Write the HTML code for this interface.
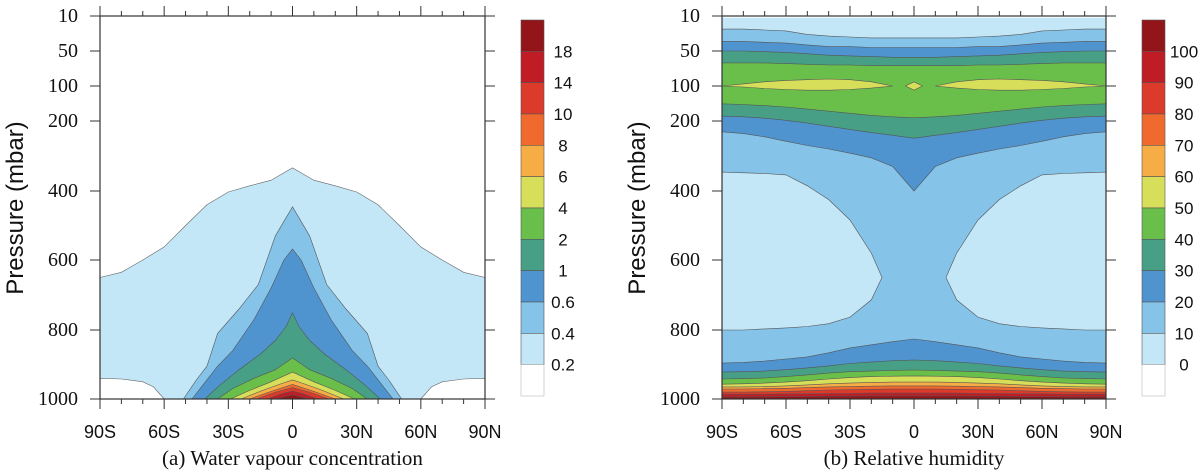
<!DOCTYPE html>
<html><head><meta charset="utf-8"><style>
html,body{margin:0;padding:0;background:#fff;}
svg{display:block;}
</style></head><body>
<svg id="fig" width="1200" height="473" viewBox="0 0 1200 473" xmlns="http://www.w3.org/2000/svg">
<g id="pa"></g>
<g id="pb"></g>
</svg>
<script>
// ---------- shared data ----------
const pTicks = [10, 50, 100, 200, 400, 600, 800, 1000];
const latTicks = [-90, -60, -30, 0, 30, 60, 90];
const latTickLabels = ["90S", "60S", "30S", "0", "30N", "60N", "90N"];
const colors = ["#ffffff","#c4e7f8","#85c3e9","#4f93cf","#47a085","#6abf4b","#d7de5a","#f6ad45","#f06a2e","#dc3a2a","#bf1c26","#921519"];
const cbLabelsA = ["18","14","10","8","6","4","2","1","0.6","0.4","0.2"];
const cbLabelsB = ["100","90","80","70","60","50","40","30","20","10","0"];

// ---------- panel (a) water vapour data ----------
const wvLats02 = [-90,-80,-70,-60,-50,-40,-30,-20,-10,0];
const wvTop02 = [650,635,600,562,500,440,403,385,369,334];
const wvCornerLats = [-90,-80,-70,-65,-60];
const wvCornerP = [940,942,950,965,1000];
const wv04 = [[-51,1000],[-45,945],[-40,905],[-35,810],[-25,740],[-16,670],[-8,530],[0,446]];
const wv06 = [[-47,1000],[-42,960],[-35,905],[-28,860],[-18,770],[-10,680],[-4,600],[0,568]];
const wv1 = [[-41,1000],[-34,960],[-25,915],[-15,870],[-8,830],[-3,790],[0,751]];
const wv2 = [[-35,1000],[-28,970],[-18,940],[-8,915],[0,881]];
const wv4 = [[-29,1000],[-20,975],[-10,950],[0,922]];
const wv6 = [[-24,1000],[-14,975],[-5,955],[0,945]];
const wv8 = [[-20,1000],[-10,978],[0,958]];
const wv10 = [[-17,1000],[-8,980],[0,967]];
const wv14 = [[-12,1000],[-5,985],[0,977]];
const wv18 = [[-8,1000],[0,988]];

// ---------- panel (b) relative humidity data ----------
const rhLats = [-90,-80,-70,-60,-50,-40,-30,-20,-10,0,10,20,30,40,50,60,70,80,90];
const rhB1 = [25,25,26,27,31,33,34,35,35,35,35,35,34,33,31,27,26,25,25];
const rhB2 = [39,39,40,41,43,45,45,46,46,46,46,46,45,45,43,41,40,39,39];
const rhB3 = [50,50,51,52,54,56,57,58,59,59,59,58,57,56,54,52,51,50,50];
const rhB4 = [67,67,67,68,69,70,70,71,71,71,71,71,70,70,69,68,67,67,67];
const rhB5 = [151,153,156,160,166,172,178,184,188,191,188,184,178,172,166,160,156,153,151];
const rhB6 = [186,188,192,198,206,215,224,233,241,249,241,233,224,215,206,198,192,188,186];
const rhB7 = [231,236,245,258,270,280,292,305,330,400,330,305,292,280,270,258,245,236,231];
const rhB9 = [896,894,890,884,878,866,852,843,834,826,834,843,852,866,878,884,890,894,896];
const rhB10 = [922,921,919,915,910,904,897,893,889,887,889,893,897,904,910,915,919,921,922];
const rhB11 = [942,941,939,935,930,925,921,919,917,916,917,919,921,925,930,935,939,941,942];
const rhB12 = [957,956,954,951,947,942,938,935,934,933,934,935,938,942,947,951,954,956,957];
const rhB13 = [965,965,964,962,959,956,954,952,951,951,951,952,954,956,959,962,964,965,965];
const rhB14 = [971,971,970,969,967,965,964,963,962,962,962,963,964,965,967,969,970,971,971];
const rhB15 = [980,980,979,978,976,974,973,972,971,971,971,972,973,974,976,978,979,980,980];
const rhB16 = [986,986,986,985,985,984,984,983,983,983,983,983,984,984,985,985,986,986,986];
const rhB17 = [994,994,994,993,993,992,992,991,991,991,991,991,992,992,993,993,994,994,994];
const lensLats = [-90,-80,-70,-60,-50,-40,-30,-20,-10];
const lensTop = [100,97,94,92,91,90,91,94,100];
const lensBot = [100,103,107,110,112,112,110,106,100];
const lobeLats = [-90,-80,-70,-60,-50,-40,-30,-20,-15];
const lobeTop = [346,348,350,354,385,425,484,580,650];
const lobeBot = [800,800,797,794,790,782,763,714,650];

// ---------- geometry ----------
const tickY = [16,51,86,121,191,260,330,399];
function yP(p){
  if(p<=pTicks[0]) return tickY[0];
  for(let i=1;i<pTicks.length;i++){
    if(p<=pTicks[i]){const t=(p-pTicks[i-1])/(pTicks[i]-pTicks[i-1]);return tickY[i-1]+t*(tickY[i]-tickY[i-1]);}
  }
  return tickY[tickY.length-1];
}
const NS="http://www.w3.org/2000/svg";
function mk(tag,attrs,parent){const e=document.createElementNS(NS,tag);for(const k in attrs)e.setAttribute(k,attrs[k]);parent.appendChild(e);return e;}
function pts(arr){return arr.map(q=>q[0].toFixed(1)+","+q[1].toFixed(1)).join(" ");}

function drawAxes(g, x0, x1, xf, title, cbx, cbLabels, pre){
  const yT=16,yB=399;
  const fr=mk("rect",{x:x0,y:yT,width:x1-x0,height:yB-yT,fill:"none",stroke:"#333","stroke-width":1.2},g);
  
  
  for(let lat=-90;lat<=90;lat+=10){
    const x=xf(lat), major=(lat%30===0), L=major?10:5;
    const t1=mk("line",{x1:x,x2:x,y1:yT,y2:yT-L,stroke:"#333","stroke-width":1},g);
    
    
    const t2=mk("line",{x1:x,x2:x,y1:yB,y2:yB+L,stroke:"#333","stroke-width":1},g);
    
    
  }
  latTicks.forEach((lat,i)=>{
    const t=mk("text",{x:xf(lat),y:438,"text-anchor":"middle","font-family":"Liberation Sans, sans-serif","font-size":18,fill:"#111"},g);
    t.textContent=latTickLabels[i];
    
    
  });
  pTicks.forEach((p,i)=>{
    const y=yP(p);
    const a=mk("line",{x1:x0-10,x2:x0,y1:y,y2:y,stroke:"#333","stroke-width":1},g);
    
    
    const b=mk("line",{x1:x1,x2:x1+10,y1:y,y2:y,stroke:"#333","stroke-width":1},g);
    
    
    const t=mk("text",{x:x0-22,y:y+6,"text-anchor":"end","font-family":"Liberation Serif, serif","font-size":20,fill:"#111"},g);
    t.textContent=String(p);
    
    
  });
  const yl=mk("text",{x:0,y:0,transform:"translate("+(x0-77)+",208) rotate(-90)","text-anchor":"middle","font-family":"Liberation Sans, sans-serif","font-size":24,fill:"#111"},g);
  yl.textContent="Pressure (mbar)";
  
  
  const tt=mk("text",{x:(x0+x1)/2,y:465,"text-anchor":"middle","font-family":"Liberation Serif, serif","font-size":21,fill:"#111"},g);
  tt.textContent=title;
  
  
  const h=(396-20)/12;
  for(let k=0;k<12;k++){
    const r=mk("rect",{x:cbx,y:20+k*h,width:23,height:h,fill:colors[11-k],stroke:k===11?"#bbb":"#555","stroke-width":0.6},g);
    
    
  }
  cbLabels.forEach((s,k)=>{
    const t=mk("text",{x:cbx+42,y:20+(k+1)*h+6,"text-anchor":"middle","font-family":"Liberation Sans, sans-serif","font-size":17,fill:"#111"},g);
    t.textContent=s;
    
    
  });
}

// ---------- panel (a) ----------
(function(){
  const g=document.getElementById("pa");
  const x0=100,x1=485;
  const xf=lat=>x0+(lat+90)/180*(x1-x0);
  const cg=mk("g",{},g);
  
  
  let top=wvLats02.map((l,i)=>[xf(l),yP(wvTop02[i])]);
  let topN=wvLats02.slice(0,-1).reverse().map((l,i)=>[xf(-l),yP(wvTop02[wvLats02.length-2-i])]);
  let poly=[[xf(-90),yP(1000)]].concat(top,topN,[[xf(90),yP(1000)]]);
  let e=mk("polygon",{points:pts(poly),fill:colors[1],stroke:"#666","stroke-width":0.6},cg);
  
  
  [1,-1].forEach(s=>{
    const c=wvCornerLats.map((l,i)=>[xf(s*l),yP(wvCornerP[i])]);
    c.push([xf(s*-90),yP(1000)]);
    const w=mk("polygon",{points:pts(c),fill:"#fff",stroke:"#666","stroke-width":0.6},cg);
    
    
  });
  const levels=[wv04,wv06,wv1,wv2,wv4,wv6,wv8,wv10,wv14,wv18];
  const names=["0.4","0.6","1","2","4","6","8","10","14","18"];
  levels.forEach((lev,k)=>{
    const s=lev.map(q=>[xf(q[0]),yP(q[1])]);
    const n=lev.slice(0,-1).reverse().map(q=>[xf(-q[0]),yP(q[1])]);
    const d=mk("polygon",{points:pts(s.concat(n)),fill:colors[k+2],stroke:"#555","stroke-width":0.6},cg);
    
    
  });
  drawAxes(g,x0,x1,xf,"(a)  Water vapour concentration",521,cbLabelsA,"a");
})();

// ---------- panel (b) ----------
(function(){
  const g=document.getElementById("pb");
  const x0=722,x1=1106;
  const xf=lat=>x0+(lat+90)/180*(x1-x0);
  const cg=mk("g",{},g);
  
  
  const bg=mk("rect",{x:x0,y:yP(12),width:x1-x0,height:yP(1000)-yP(12),fill:colors[1]},cg);
  
  
  function band(arr,ci,name){
    const p=rhLats.map((l,i)=>[xf(l),yP(arr[i])]);
    p.push([xf(90),yP(1000)],[xf(-90),yP(1000)]);
    const e=mk("polygon",{points:pts(p),fill:colors[ci],stroke:"#555","stroke-width":0.6},cg);
    
    
  }
  band(rhB1,2,"band-10-20-upper");
  band(rhB2,3,"band-20-30-upper");
  band(rhB3,4,"band-30-40-upper");
  band(rhB4,5,"band-40-50-upper");
  [1,-1].forEach(s=>{
    const t=lensLats.map((l,i)=>[xf(s*l),yP(lensTop[i])]);
    const b=lensLats.map((l,i)=>[xf(s*l),yP(lensBot[i])]).reverse();
    const e=mk("polygon",{points:pts(t.concat(b)),fill:colors[6],stroke:"#555","stroke-width":0.6},cg);
    
    
  });
  const dm=mk("polygon",{points:pts([[xf(-4),yP(100)],[xf(0),yP(94)],[xf(4),yP(100)],[xf(0),yP(112)]]),fill:colors[6],stroke:"#555","stroke-width":0.6},cg);
  
  
  band(rhB5,4,"band-30-40-lower");
  band(rhB6,3,"band-20-30-lower");
  band(rhB7,2,"band-10-20-middle");
  [1,-1].forEach(s=>{
    const t=lobeLats.map((l,i)=>[xf(s*l),yP(lobeTop[i])]);
    const b=lobeLats.map((l,i)=>[xf(s*l),yP(lobeBot[i])]).reverse();
    const e=mk("polygon",{points:pts(t.concat(b)),fill:colors[1],stroke:"#555","stroke-width":0.6},cg);
    
    
  });
  band(rhB9,3,"band-20-30-bottom");
  band(rhB10,4,"band-30-40-bottom");
  band(rhB11,5,"band-40-50-bottom");
  band(rhB12,6,"band-50-60-bottom");
  band(rhB13,7,"band-60-70-bottom");
  band(rhB14,8,"band-70-80-bottom");
  band(rhB15,9,"band-80-90-bottom");
  band(rhB16,10,"band-90-100-bottom");
  band(rhB17,11,"band-100-bottom");
  drawAxes(g,x0,x1,xf,"(b)  Relative humidity",1142,cbLabelsB,"b");
})();
</script>
</body></html>
